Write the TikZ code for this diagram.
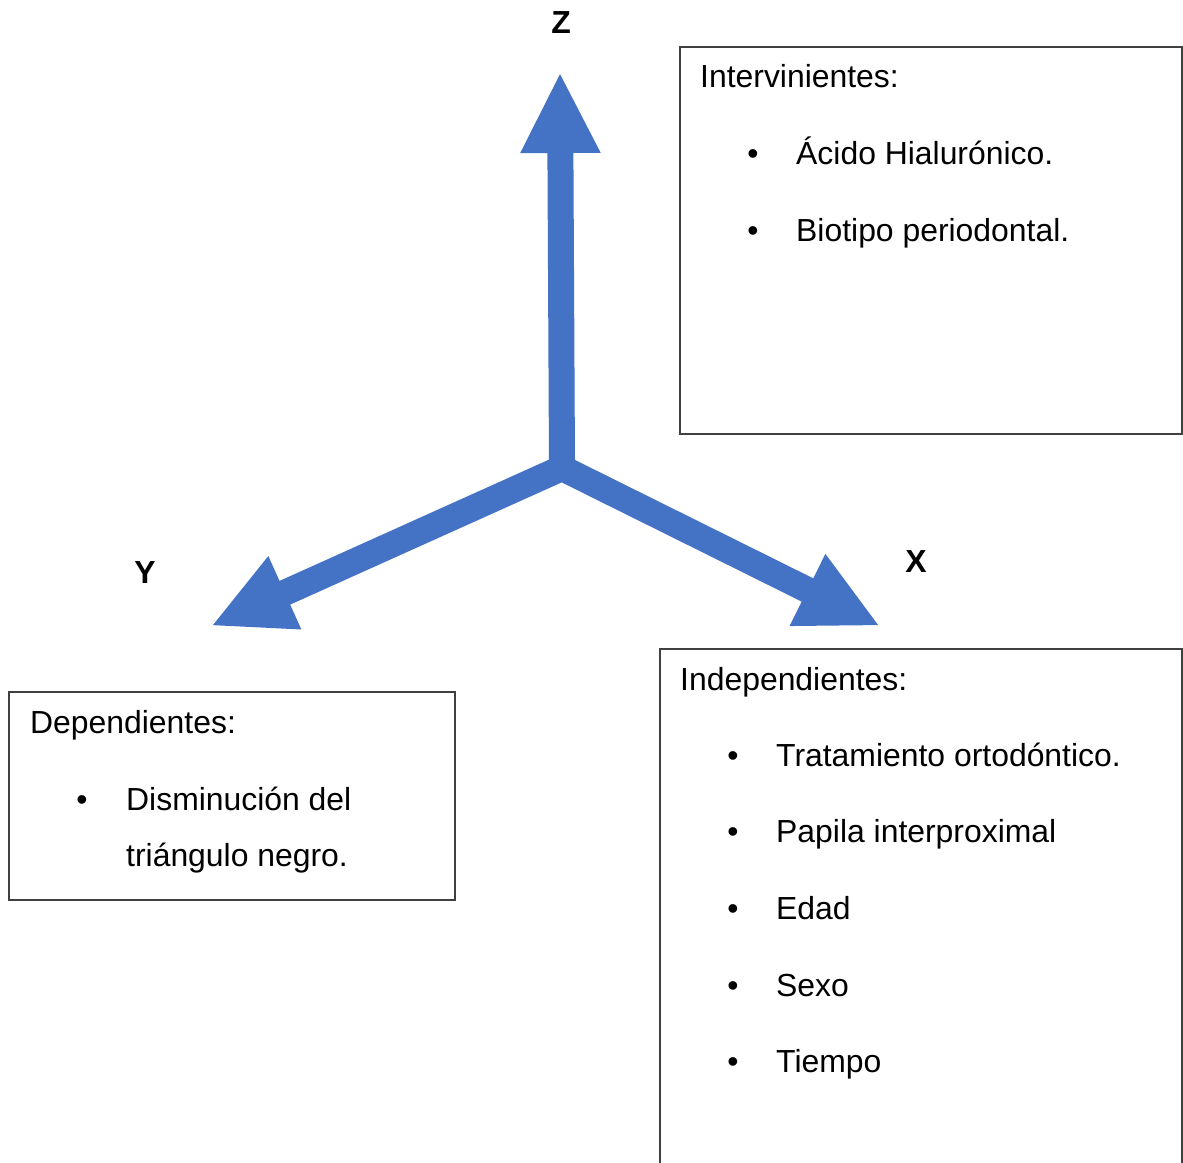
\documentclass[tikz,border=0pt]{standalone}
\usepackage{fontspec}
\setmainfont{Liberation Sans}
\usetikzlibrary{arrows.meta}
\definecolor{axisblue}{HTML}{4472C4}
\definecolor{boxline}{HTML}{404040}
\tikzset{
  axis/.style={draw=axisblue, line width=26pt, line join=miter,
    -{Triangle[length=81pt,width=74pt]}},
  axisboth/.style={draw=axisblue, line width=26pt, line join=miter,
    {Triangle[length=81pt,width=74pt]}-{Triangle[length=81pt,width=74pt]}},
  txt/.style={anchor=base west, inner sep=0pt, font=\fontsize{31.9}{38}\selectfont},
  bul/.style={anchor=base, inner sep=0pt, font=\fontsize{31.9}{38}\selectfont},
  axlabel/.style={anchor=base, inner sep=0pt, font=\fontsize{31.9}{38}\selectfont\bfseries},
  box/.style={draw=boxline, line width=1.3pt}
}
\begin{document}
\begin{tikzpicture}[x=1pt,y=-1pt]
\useasboundingbox (0,0) rectangle (1183,1162);
\fill[white] (0,0) rectangle (1183,1162);
% axes
\coordinate (O) at (562,468);
\coordinate (ztip) at (560,72);
\coordinate (ytip) at (211,626);
\coordinate (xtip) at (880,626);
\draw[axisboth] (ytip) -- (O) -- (xtip);
\draw[axis] (O) -- (ztip);
\node[axlabel] (zl) at (561,33) {Z};
\node[axlabel] (yl) at (145,583) {Y};
\node[axlabel] (xl) at (916,572) {X};
% boxes
\draw[box] (680,47) rectangle (1182,434);
\draw[box] (9,692) rectangle (455,900);
\begin{scope}
\clip (0,0) rectangle (1183,1162);
\draw[box] (660,1175) -- (660,649) -- (1182,649) -- (1182,1175);
\end{scope}
% Intervinientes
\node[txt] (int) at (700,87) {Intervinientes:};
\node[bul] (ib1) at (753,164) {•};
\node[txt] (i1) at (796,164) {Ácido Hialurónico.};
\node[bul] (ib2) at (753,241) {•};
\node[txt] (i2) at (796,241) {Biotipo periodontal.};
% Dependientes
\node[txt] (dep) at (30,733) {Dependientes:};
\node[bul] (db1) at (82,810) {•};
\node[txt] (d1) at (126,810) {Disminución del};
\node[txt] (d2) at (126,866) {triángulo negro.};
% Independientes
\node[txt] (ind) at (680,690) {Independientes:};
\node[bul] (nb1) at (733,766) {•};
\node[txt] (n1) at (776,766) {Tratamiento ortodóntico.};
\node[bul] (nb2) at (733,842) {•};
\node[txt] (n2) at (776,842) {Papila interproximal};
\node[bul] (nb3) at (733,919) {•};
\node[txt] (n3) at (776,919) {Edad};
\node[bul] (nb4) at (733,996) {•};
\node[txt] (n4) at (776,996) {Sexo};
\node[bul] (nb5) at (733,1072) {•};
\node[txt] (n5) at (776,1072) {Tiempo};
\end{tikzpicture}
\end{document}
